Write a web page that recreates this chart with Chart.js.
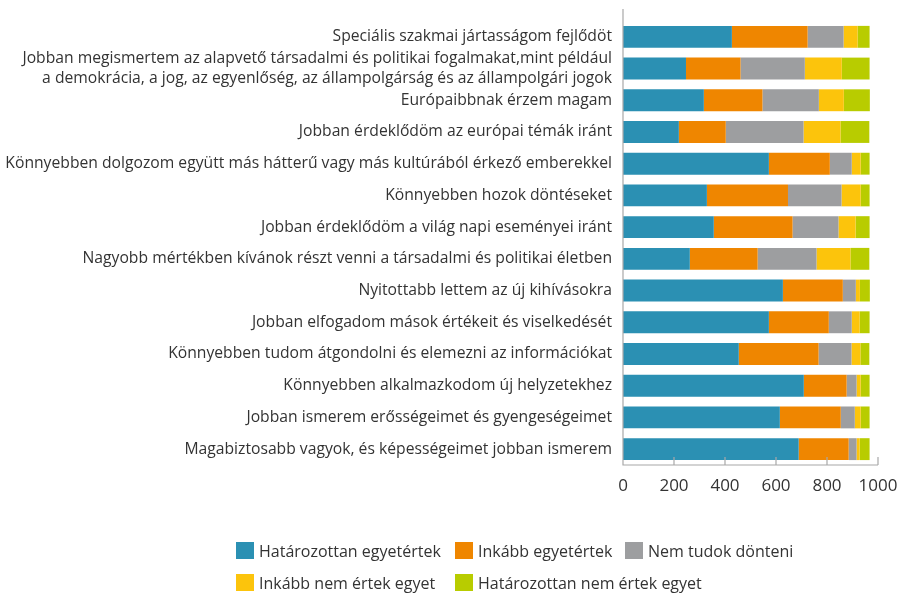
<!DOCTYPE html>
<html>
<head>
<meta charset="utf-8">
<script src="https://cdn.jsdelivr.net/npm/chart.js@4.4.1/dist/chart.umd.min.js"></script>
<style>
  html, body { margin:0; padding:0; background:#fff; }
  #wrap { position:relative; width:902px; height:595px; }
  #legend { position:absolute; left:236px; top:542px; display:grid;
    grid-template-columns:219px 170px auto; row-gap:15px;
    font-family:'Open Sans', sans-serif; font-size:16px; color:#333; }
  #legend span.item { display:flex; align-items:center; gap:5px; height:17px; white-space:nowrap; }
  #legend span.box { width:18px; height:17px; flex-shrink:0; display:inline-block; }
</style>
</head>
<body>
<div id="wrap">
  <canvas id="c" width="902" height="595"></canvas>
  <div id="legend"></div>
</div>
<script>
const categories = [
  'Speciális szakmai jártasságom fejlődöt',
  ['Jobban megismertem az alapvető társadalmi és politikai fogalmakat,mint például',
   'a demokrácia, a jog, az egyenlőség, az állampolgárság és az állampolgári jogok'],
  'Európaibbnak érzem magam',
  'Jobban érdeklődöm az európai témák iránt',
  'Könnyebben dolgozom együtt más hátterű vagy más kultúrából érkező emberekkel',
  'Könnyebben hozok döntéseket',
  'Jobban érdeklődöm a világ napi eseményei iránt',
  'Nagyobb mértékben kívánok részt venni a társadalmi és politikai életben',
  'Nyitottabb lettem az új kihívásokra',
  'Jobban elfogadom mások értékeit és viselkedését',
  'Könnyebben tudom átgondolni és elemezni az információkat',
  'Könnyebben alkalmazkodom új helyzetekhez',
  'Jobban ismerem erősségeimet és gyengeségeimet',
  'Magabiztosabb vagyok, és képességeimet jobban ismerem'
]
const seriesNames = ['Határozottan egyetértek', 'Inkább egyetértek', 'Nem tudok dönteni',
  'Inkább nem értek egyet', 'Határozottan nem értek egyet']
const hatarozottan = [427, 247, 317, 219, 572, 329, 356, 262, 627, 572, 454, 709, 615, 689]
const inkabb       = [297, 214, 230, 184, 239, 318, 309, 266, 235, 235, 313, 168, 239, 196]
const nemTudok     = [141, 252, 221, 305,  86, 210, 180, 231,  51,  90, 129,  39,  55,  31]
const inkabbNem    = [ 55, 145,  98, 145,  35,  75,  67, 133,  16,  31,  35,  16,  23,  12]
const hatarozNem   = [ 47, 109, 102, 113,  35,  35,  55,  74,  39,  39,  35,  35,  35,  39]
const xTicks = [0, 200, 400, 600, 800, 1000]
const colors = ['#2b90b3', '#ef8600', '#9d9ea0', '#fcc40c', '#b8cc00']

const seriesData = [hatarozottan, inkabb, nemTudok, inkabbNem, hatarozNem]
const axisColor = '#a8a8a8'
const textColor = '#333333'
const font = { family:"'Open Sans', sans-serif", size:15.7, lineHeight:1.27 }

// left axis line that runs a little above the first band, and inward tick marks on x
const axisPlugin = {
  id: 'axisLines',
  afterDraw(chart) {
    const { ctx, chartArea: a, scales: { x } } = chart
    ctx.save()
    ctx.strokeStyle = axisColor
    ctx.lineWidth = 1.2
    ctx.beginPath()
    ctx.moveTo(a.left, a.top - 12)
    ctx.lineTo(a.left, a.bottom)
    ctx.lineTo(a.right, a.bottom)
    xTicks.forEach(v => {
      const px = x.getPixelForValue(v)
      ctx.moveTo(px, a.bottom)
      ctx.lineTo(px, a.bottom - 8)
    })
    ctx.stroke()
    ctx.restore()
  }
}

new Chart(document.getElementById('c'), {
  type: 'bar',
  data: {
    labels: categories,
    datasets: seriesData.map((d, i) => ({
      label: seriesNames[i], data: d, backgroundColor: colors[i],
      borderWidth: 0, barPercentage: 0.69, categoryPercentage: 1
    }))
  },
  options: {
    indexAxis: 'y', responsive: false, animation: false,
    layout: { padding: { top: 20, right: 24, left: 0, bottom: 0 } },
    plugins: { legend: { display: false }, tooltip: { enabled: false } },
    scales: {
      x: {
        stacked: true, min: 0, max: 1000,
        afterBuildTicks: s => { s.ticks = xTicks.map(v => ({ value: v })) },
        afterFit: s => { s.height = 130; s.paddingLeft = 0; s.paddingRight = 0 },
        border: { display: false },
        grid: { display: false, drawTicks: false },
        ticks: { color: textColor, font: { family: font.family, size: 17 }, padding: 11,
          callback: v => String(v) }
      },
      y: {
        stacked: true,
        afterFit: s => { s.width = 623 },
        border: { display: false },
        grid: { display: false, drawTicks: false },
        ticks: { color: textColor, font, padding: 11, autoSkip: false }
      }
    }
  },
  plugins: [axisPlugin]
})

const legend = document.getElementById('legend')
seriesNames.forEach((name, i) => {
  const item = document.createElement('span')
  item.className = 'item'
  item.innerHTML = '<span class="box" style="background:' + colors[i] + '"></span>'
  item.appendChild(document.createTextNode(name))
  legend.appendChild(item)
})
</script>
</body>
</html>
